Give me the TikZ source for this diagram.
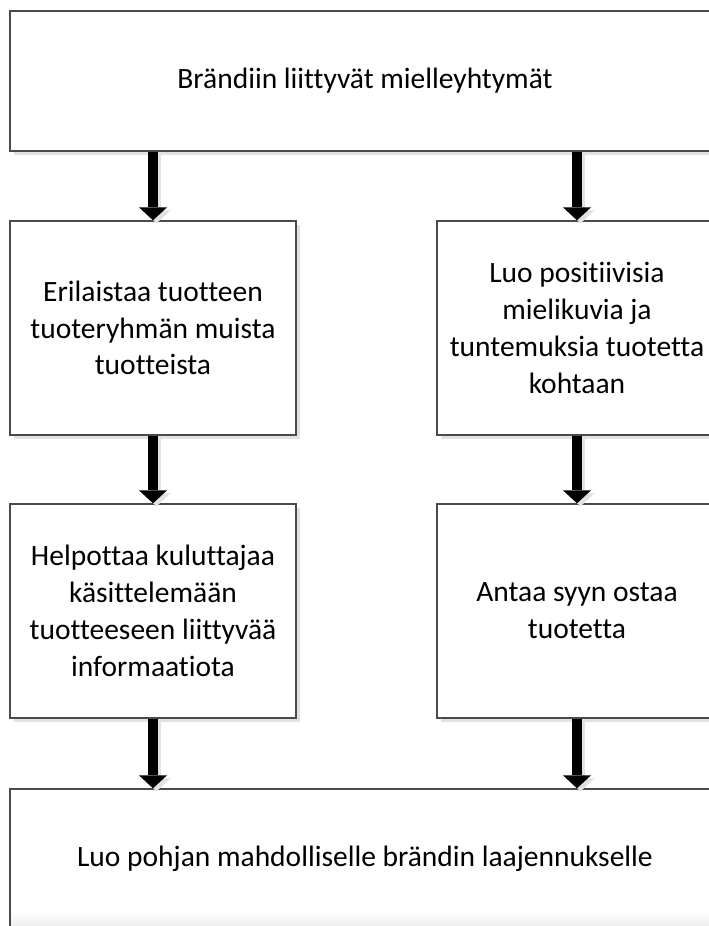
\documentclass[tikz,border=0pt]{standalone}
\usepackage{fontspec}
\setmainfont[Ligatures=NoCommon]{Carlito}
\usetikzlibrary{arrows.meta,shadows}
\definecolor{boxline}{HTML}{4A4A4A}
\definecolor{shadowgray}{HTML}{E2E2E2}
\begin{document}
\begin{tikzpicture}[x=1pt,y=-1pt,
  box/.style={rectangle, draw=boxline, line width=1.3pt, fill=white,
    inner sep=0pt, align=center,
    font=\fontsize{29.5}{36.8}\selectfont,
    drop shadow={shadow xshift=3.5pt, shadow yshift=-3.5pt,
      fill=shadowgray, opacity=1}},
  widebox/.style={box, minimum width=710pt, minimum height=140pt},
  colbox/.style={box, minimum height=214pt},
  leftbox/.style={colbox, minimum width=286pt},
  rightbox/.style={colbox, minimum width=280pt},
  bigarrow/.style={line width=9.5pt,
    -{Triangle[width=28pt,length=13pt,line width=0pt]}},
  arrowshade/.style={bigarrow, draw=shadowgray, color=shadowgray,
    transform canvas={xshift=3.5pt,yshift=-3pt}},
  flowarrow/.style={bigarrow, draw=black, color=black}]
\useasboundingbox (0,0) rectangle (709,926);
\clip (0,0) rectangle (709,926);
\fill[white] (0,0) rectangle (709,926);

% boxes
\node[widebox] (top) at (365,81) {Brändiin liittyvät mielleyhtymät};
\node[leftbox] (l1) at (153,328) {Erilaistaa tuotteen\\tuoteryhmän muista\\tuotteista};
\node[rightbox] (r1) at (577,328) {Luo positiivisia\\mielikuvia ja\\tuntemuksia tuotetta\\kohtaan};
\node[leftbox] (l2) at (153,611) {Helpottaa kuluttajaa\\käsittelemään\\tuotteeseen liittyvää\\informaatiota};
\node[rightbox] (r2) at (577,611) {Antaa syyn ostaa\\tuotetta};
\node[widebox] (bot) at (365,859) {Luo pohjan mahdolliselle brändin laajennukselle};
\shade[top color=white, bottom color=black!7] (11,911) rectangle (709,926);

% arrow shadows
\draw[arrowshade] (top.south -| l1.north) -- (l1.north);
\draw[arrowshade] (top.south -| r1.north) -- (r1.north);
\draw[arrowshade] (l1.south) -- (l2.north);
\draw[arrowshade] (r1.south) -- (r2.north);
\draw[arrowshade] (l2.south) -- (l2.south |- bot.north);
\draw[arrowshade] (r2.south) -- (r2.south |- bot.north);
% arrows
\draw[flowarrow] (top.south -| l1.north) -- (l1.north);
\draw[flowarrow] (top.south -| r1.north) -- (r1.north);
\draw[flowarrow] (l1.south) -- (l2.north);
\draw[flowarrow] (r1.south) -- (r2.north);
\draw[flowarrow] (l2.south) -- (l2.south |- bot.north);
\draw[flowarrow] (r2.south) -- (r2.south |- bot.north);
\end{tikzpicture}
\end{document}
